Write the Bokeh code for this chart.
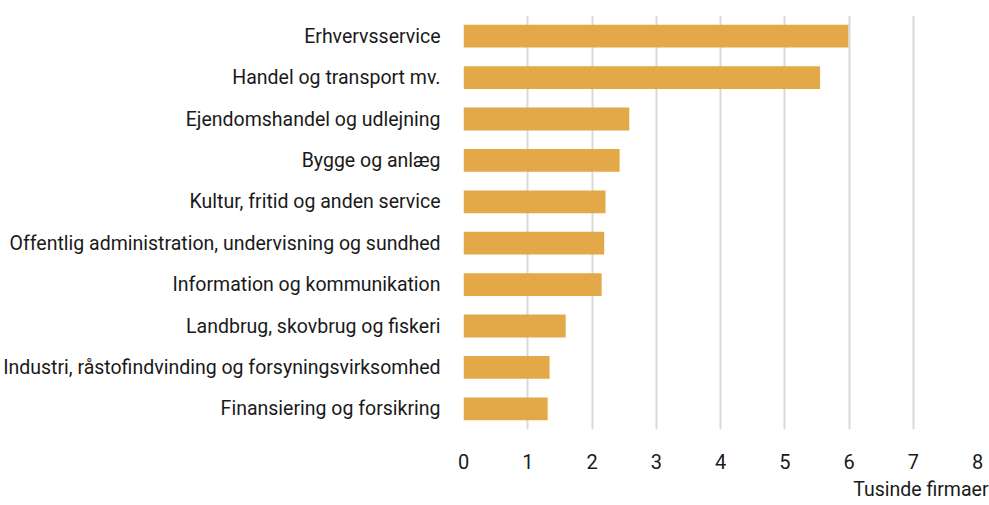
from bokeh.plotting import figure
from bokeh.models import Range1d, FixedTicker, Title
from bokeh.embed import file_html
from bokeh.resources import INLINE

categories = [
    "Erhvervsservice",
    "Handel og transport mv.",
    "Ejendomshandel og udlejning",
    "Bygge og anlæg",
    "Kultur, fritid og anden service",
    "Offentlig administration, undervisning og sundhed",
    "Information og kommunikation",
    "Landbrug, skovbrug og fiskeri",
    "Industri, råstofindvinding og forsyningsvirksomhed",
    "Finansiering og forsikring",
]
values = [5.99, 5.55, 2.58, 2.43, 2.21, 2.19, 2.15, 1.59, 1.34, 1.31]
x_ticks = [0, 1, 2, 3, 4, 5, 6, 7, 8]
x_title = "Tusinde firmaer"

FONT = "Roboto"
n = len(categories)
ypos = [n - 1 - i for i in range(n)]

p = figure(width=989, height=505, output_backend="svg", toolbar_location=None,
           x_range=Range1d(0, 8), y_range=Range1d(-0.5, n - 0.5),
           min_border_left=463, min_border_right=12, min_border_top=15, min_border_bottom=70)
p.outline_line_color = None
p.background_fill_color = "white"
p.border_fill_color = "white"

p.hbar(y=ypos, right=values, left=0, height=0.55, color="#E3A847", line_color=None)

p.xaxis.ticker = FixedTicker(ticks=x_ticks)
p.xgrid.ticker = FixedTicker(ticks=x_ticks)
p.xgrid.grid_line_color = "#D9D9D9"
p.xgrid.grid_line_width = 2
p.ygrid.grid_line_color = None
p.xaxis.axis_line_color = None
p.xaxis.major_tick_line_color = None
p.xaxis.minor_tick_line_color = None
p.xaxis.major_label_text_font = FONT
p.xaxis.major_label_text_font_size = "20px"
p.xaxis.major_label_text_color = "#1a1a1a"
p.xaxis.major_label_standoff = 18

p.yaxis.ticker = FixedTicker(ticks=ypos)
p.yaxis.major_label_overrides = {ypos[i]: categories[i] for i in range(n)}
p.yaxis.axis_line_color = None
p.yaxis.major_tick_line_color = None
p.yaxis.minor_tick_line_color = None
p.yaxis.major_label_text_font = FONT
p.yaxis.major_label_text_font_size = "19.5px"
p.yaxis.major_label_text_color = "#1a1a1a"
p.yaxis.major_label_standoff = 17

t = Title(text=x_title, align="right", offset=-11, standoff=9,
          text_font=FONT, text_font_size="19.5px", text_font_style="normal",
          text_color="#1a1a1a")
p.add_layout(t, "below")

open("out.html", "w").write(file_html(p, INLINE))
